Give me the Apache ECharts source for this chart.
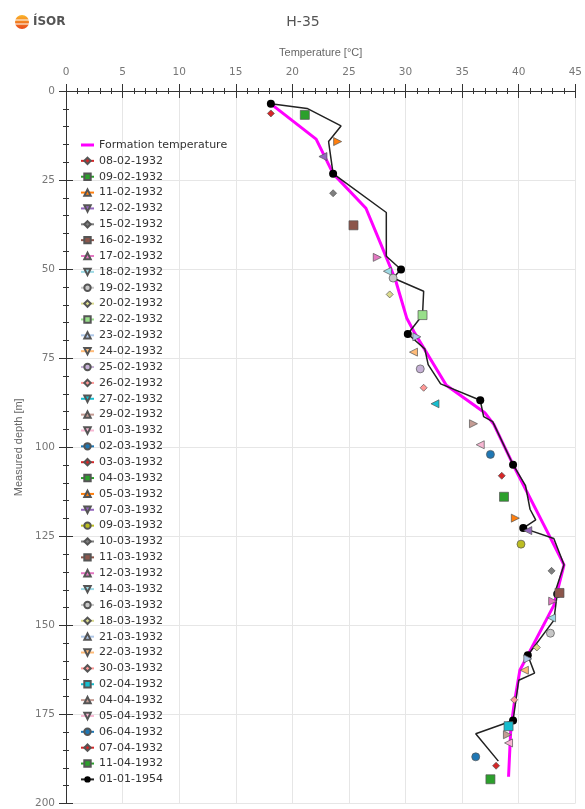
<!DOCTYPE html>
<html><head><meta charset="utf-8">
<script src="https://cdn.jsdelivr.net/npm/echarts@6/dist/echarts.min.js"></script>
<style>html,body{margin:0;padding:0;background:#fff}#c{width:585px;height:809px}</style>
</head><body><div id="c"></div>
<script>
// ---- data ----
const titleText = 'H-35';
const xName = 'Temperature [°C]';
const yName = 'Measured depth [m]';
const tempMin = 0, tempMax = 45, tempStep = 5;
const depthMin = 0, depthMax = 200, depthStep = 25;

const surveyDates = ['08-02-1932','09-02-1932','11-02-1932','12-02-1932','15-02-1932','16-02-1932','17-02-1932','18-02-1932','19-02-1932','20-02-1932','22-02-1932','23-02-1932','24-02-1932','25-02-1932','26-02-1932','27-02-1932','29-02-1932','01-03-1932','02-03-1932','03-03-1932','04-03-1932','05-03-1932','07-03-1932','09-03-1932','10-03-1932','11-03-1932','12-03-1932','14-03-1932','16-03-1932','18-03-1932','21-03-1932','22-03-1932','30-03-1932','02-04-1932','04-04-1932','05-04-1932','06-04-1932','07-04-1932','11-04-1932'];
const surveyTemps = [18.1,21.1,24.0,22.7,23.6,25.4,27.5,28.4,28.9,28.6,31.5,31.0,30.7,31.3,31.6,32.6,36.0,36.6,37.5,38.5,38.7,39.7,40.8,40.2,42.9,43.6,43.0,42.9,42.8,41.6,40.8,40.5,39.6,39.1,39.0,39.1,36.2,38.0,37.5];
const surveyDepths = [6.3,6.7,14.2,18.4,28.7,37.7,46.7,50.6,52.5,57.1,62.9,69.0,73.3,78.0,83.3,87.8,93.4,99.3,102.0,108.0,113.9,119.9,123.4,127.2,134.7,140.9,143.2,147.9,152.2,156.2,159.4,162.6,170.9,178.3,180.7,183.0,186.9,189.4,193.2];
const surveyColors = ['#d62728','#2ca02c','#ff7f0e','#9467bd','#7f7f7f','#8c564b','#e377c2','#9edae5','#c7c7c7','#dbdb8d','#98df8a','#aec7e8','#ffbb78','#c5b0d5','#ff9896','#17becf','#c49c94','#f7b6d2','#1f77b4','#d62728','#2ca02c','#ff7f0e','#9467bd','#bcbd22','#7f7f7f','#8c564b','#e377c2','#9edae5','#c7c7c7','#dbdb8d','#aec7e8','#ffbb78','#ff9896','#17becf','#c49c94','#f7b6d2','#1f77b4','#d62728','#2ca02c'];
const surveyShapes = ['diamond','square','up','down','diamond','square','up','down','circle','diamond','square','up','down','circle','diamond','down','up','down','circle','diamond','square','up','down','circle','diamond','square','up','down','circle','diamond','up','down','diamond','square','up','down','circle','diamond','square'];

const formationName = 'Formation temperature';
const formationTemps  = [18.1,22.1,23.6,26.5,27.9,29.1,30.1,30.8,33.6,37.0,37.8,39.5,42.7,44.0,43.1,40.8,40.1,39.6,39.3,39.1];
const formationDepths = [3.6,13.5,23.2,32.9,43.6,52.9,63.7,67.9,82.6,90.3,93.6,104.9,124.8,133.0,144.4,158.4,162.6,172.0,179.0,192.5];

const profileName = '01-01-1954';
const profileTemps  = [18.1,21.3,24.3,23.2,23.6,28.3,28.3,29.6,28.9,31.6,31.5,30.2,31.7,32.0,33.1,36.6,36.9,37.7,39.5,40.6,41.0,41.5,40.4,43.1,44.0,43.3,43.4,43.1,40.8,41.4,40.0,39.5,36.2,38.2];
const profileDepths = [3.6,4.9,9.8,14.2,23.2,34.1,46.4,50.1,52.5,56.2,62.9,68.2,72.4,76.8,82.2,86.8,91.4,92.8,104.9,110.8,117.4,120.4,122.7,125.6,133.0,139.8,141.2,148.6,158.4,163.4,165.4,176.7,180.4,188.1];
const profileMarkers = [1,0,0,0,1,0,0,1,0,0,0,1,0,0,0,1,0,0,1,0,0,0,1,0,0,0,1,0,1,0,0,1,0,0];

// ---- chart ----
const FONT = 'DejaVu Sans';
const shapeStyle = {
  diamond: {symbol:'diamond', size:[7,7], legendRot:0, plotRot:0},
  square:  {symbol:'rect', size:9, legendRot:0, plotRot:0},
  up:      {symbol:'triangle', size:8, legendRot:0, plotRot:-90},
  down:    {symbol:'triangle', size:8, legendRot:180, plotRot:90},
  circle:  {symbol:'circle', size:8, legendRot:0, plotRot:0}
};

const series = [];
series.push({
  name: formationName, type:'line', symbol:'none', z:2,
  lineStyle:{color:'#ff00ff', width:3}, itemStyle:{color:'#ff00ff'},
  data: formationTemps.map((t,i)=>[t, formationDepths[i]])
});
surveyDates.forEach((d,i)=>{
  const s = shapeStyle[surveyShapes[i]];
  series.push({
    name:d, type:'line', z:5,
    symbol:s.symbol, symbolSize:s.size, symbolRotate:s.legendRot,
    lineStyle:{color:surveyColors[i], width:1.5},
    itemStyle:{color:surveyColors[i], borderColor:'#555', borderWidth:0.7},
    data:[{value:[surveyTemps[i], surveyDepths[i]], symbolRotate:s.plotRot}]
  });
});
series.push({
  name: profileName, type:'line', z:4,
  symbol:'circle', symbolSize:8,
  lineStyle:{color:'#222', width:1.5},
  itemStyle:{color:'#000', borderColor:'#000', borderWidth:0},
  data: profileTemps.map((t,i)=> profileMarkers[i] ? {value:[t, profileDepths[i]]} : {value:[t, profileDepths[i]], symbol:'none'})
});

const axisLine = {show:true, lineStyle:{color:'#333', width:1}};
const tick = {show:true, inside:false, length:7, lineStyle:{color:'#333'}};
const minor = {show:true, splitNumber:5, length:3, lineStyle:{color:'#333'}};
const lbl = {color:'#777', fontFamily:FONT, fontSize:10.5};

const legendData = [{name:formationName, icon:'path://M0,0H13V3H0Z'}]
  .concat(surveyDates.map(n=>({name:n})), [{name:profileName}]);

const chart = echarts.init(document.getElementById('c'), null, {renderer:'canvas'});
chart.setOption({
  animation:false,
  backgroundColor:'#fff',
  title:{text:titleText, left:298, top:10, textAlign:'center',
    textStyle:{fontFamily:FONT, fontSize:14, fontWeight:'normal', color:'#555'}},
  graphic:[
    {type:'circle', shape:{cx:22, cy:22, r:7}, style:{fill:new echarts.graphic.LinearGradient(0,0,0,1,[{offset:0,color:'#fbb62a'},{offset:1,color:'#e9481a'}])}},
    {type:'rect', shape:{x:14, y:19.5, width:16, height:1}, style:{fill:'#fff'}},
    {type:'rect', shape:{x:14, y:23.5, width:16, height:1}, style:{fill:'#fff'}},
    {type:'text', left:33, top:16, style:{text:'ÍSOR', font:'bold 12px "DejaVu Sans"', fill:'#555'}}
  ],
  grid:{left:66, right:5, top:91, bottom:5, containLabel:false},
  legend:{
    orient:'vertical', left:80, top:139, padding:0, itemWidth:13, itemHeight:8, itemGap:3.86,
    textStyle:{fontFamily:FONT, fontSize:11, color:'#333', lineHeight:12},
    data:legendData
  },
  xAxis:[
    {type:'value', position:'top', min:tempMin, max:tempMax, interval:tempStep,
      name:xName, nameLocation:'middle', nameGap:33,
      nameTextStyle:{fontFamily:'Liberation Sans', fontSize:11, color:'#666'},
      axisLine, axisTick:tick, minorTick:minor,
      axisLabel:Object.assign({margin:13}, lbl),
      splitLine:{show:true, lineStyle:{color:'#e6e6e6'}}},
    {type:'value', position:'bottom', min:tempMin, max:tempMax, interval:tempStep,
      axisLine, axisTick:tick, minorTick:minor, axisLabel:{show:false}, splitLine:{show:false}}
  ],
  yAxis:[
    {type:'value', inverse:true, min:depthMin, max:depthMax, interval:depthStep,
      name:yName, nameLocation:'middle', nameGap:38,
      nameTextStyle:{fontFamily:'Liberation Sans', fontSize:11, color:'#666'},
      axisLine, axisTick:tick, minorTick:minor,
      axisLabel:Object.assign({margin:11}, lbl),
      splitLine:{show:true, lineStyle:{color:'#e6e6e6'}}},
    {type:'value', position:'right', inverse:true, min:depthMin, max:depthMax, interval:depthStep,
      axisLine, axisTick:tick, minorTick:minor, axisLabel:{show:false}, splitLine:{show:false}}
  ],
  series
});
</script></body></html>
